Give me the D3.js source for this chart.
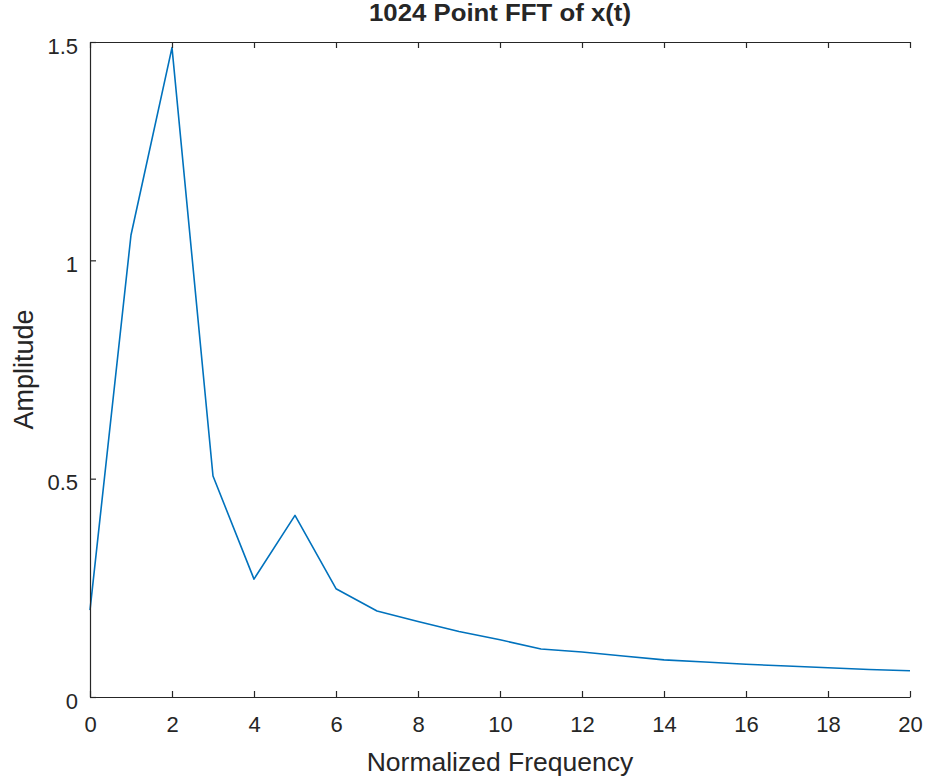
<!DOCTYPE html>
<html>
<head>
<meta charset="utf-8">
<script src="https://cdn.jsdelivr.net/npm/d3@7"></script>
<style>
  html, body { margin: 0; padding: 0; background: #fff; }
  svg { display: block; }
  text { font-family: "Liberation Sans", Arial, Helvetica, sans-serif; fill: #262626; }
</style>
</head>
<body>
<svg id="chart" width="931" height="784"></svg>
<script>
// Data
const freq = [0,1,2,3,4,5,6,7,8,9,10,11,12,13,14,15,16,17,18,19,20];
const amplitude = [0.199,1.058,1.487,0.506,0.270,0.416,0.248,0.197,0.173,0.150,0.131,0.110,0.103,0.094,0.085,0.080,0.075,0.071,0.067,0.063,0.060];
const xTicks = [0,2,4,6,8,10,12,14,16,18,20];
const yTicks = [0,0.5,1,1.5];
const title = "1024 Point FFT of x(t)";
const xLabel = "Normalized Frequency";
const yLabel = "Amplitude";

(function(){
const svg = d3.select("#chart");
const mL = 90, mR = 910, mT = 42, mB = 697;
const axisColor = "#262626";

const x = d3.scaleLinear().domain([0,20]).range([mL,mR]);
const y = d3.scaleLinear().domain([0,1.5]).range([mB,mT]);

// Line
const line = d3.line().x((d,i)=>x(freq[i])).y(d=>y(d));
svg.append("path")
  .datum(amplitude)
  .attr("d", line)
  .attr("fill","none")
  .attr("stroke","#0072BD")
  .attr("stroke-width",1.6)
  .attr("stroke-linejoin","round");

// Axes
const tickLen = 6;
const fmt = d3.format("~g");
const xAxisB = d3.axisBottom(x).tickValues(xTicks).tickSizeInner(-tickLen).tickSizeOuter(0).tickPadding(19).tickFormat(fmt);
const xAxisT = d3.axisTop(x).tickValues(xTicks).tickSizeInner(-tickLen).tickSizeOuter(0).tickFormat("");
const yAxisL = d3.axisLeft(y).tickValues(yTicks).tickSizeInner(-tickLen).tickSizeOuter(0).tickPadding(12).tickFormat(fmt);
const yAxisR = d3.axisRight(y).tickValues(yTicks).tickSizeInner(-tickLen).tickSizeOuter(0).tickFormat("");

function style(g){
  g.select(".domain").attr("stroke",axisColor).attr("stroke-width",1.2);
  g.selectAll(".tick line").attr("stroke",axisColor).attr("stroke-width",1.2);
  g.selectAll(".tick text").attr("fill",axisColor).style("font-size","22px").style("font-family","'Liberation Sans', Arial, sans-serif");
}
svg.append("g").attr("transform",`translate(0,${mB})`).call(xAxisB).call(style);
svg.append("g").attr("transform",`translate(0,${mT})`).call(xAxisT).call(style);
const gl = svg.append("g").attr("transform",`translate(${mL},0)`).call(yAxisL).call(style);
gl.selectAll(".tick text").attr("dy","0.5em");

// Title
svg.append("text")
  .attr("x",(mL+mR)/2).attr("y",21)
  .attr("text-anchor","middle")
  .attr("textLength",262).attr("lengthAdjust","spacingAndGlyphs")
  .style("font-size","23px").style("font-weight","bold")
  .text(title);

// X label
svg.append("text")
  .attr("x",(mL+mR)/2).attr("y",771)
  .attr("text-anchor","middle")
  .style("font-size","26.5px")
  .text(xLabel);

// Y label
svg.append("text")
  .attr("transform",`translate(33,${(mT+mB)/2}) rotate(-90)`)
  .attr("text-anchor","middle")
  .style("font-size","27px")
  .text(yLabel);
})();
</script>
</body>
</html>
